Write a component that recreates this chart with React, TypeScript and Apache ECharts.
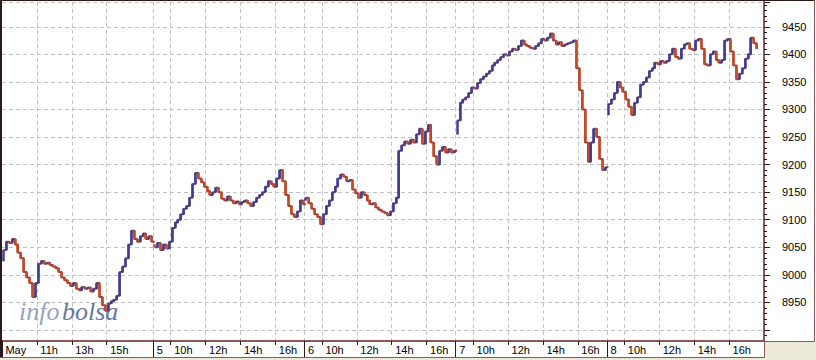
import React, { useEffect, useRef } from 'react';
import * as echarts from 'echarts';

// ---- data (IBEX-like intraday, 10-minute closes, 09:00 .. 17:30) ----
const dayLabels = ['May', '5', '6', '7', '8'];
const dayHourTicks = [
  [11, 13, 15],
  [10, 12, 14, 16],
  [10, 12, 14, 16],
  [10, 12, 14, 16],
  [10, 12, 14, 16],
];
const yTickLabels = [8950, 9000, 9050, 9100, 9150, 9200, 9250, 9300, 9350, 9400, 9450];
const dayOpens = [9025, 9055, 9135, 9255, 9290];

const closesDay1 = [
  9045, 9060, 9058, 9065, 9055, 9040, 9030, 9005, 8995, 8985, 8960, 8985, 9020,
  9025, 9020, 9022, 9018, 9015, 9012, 9005, 8995, 8990, 8985, 8980, 8985, 8975,
  8972, 8978, 8975, 8977, 8970, 8975, 8985, 8960, 8945, 8935, 8948, 8952, 8955,
  8962, 9005, 9015, 9030, 9055, 9080, 9065, 9060, 9070, 9075, 9065, 9070, 9060,
];
const closesDay2 = [
  9050, 9058, 9045, 9055, 9048, 9060, 9085, 9095, 9100, 9110, 9120, 9125, 9140,
  9165, 9185, 9175, 9168, 9160, 9152, 9145, 9150, 9158, 9150, 9138, 9135, 9142,
  9135, 9130, 9133, 9128, 9132, 9135, 9130, 9125, 9132, 9140, 9145, 9150, 9160,
  9170, 9165, 9160, 9175, 9190, 9170, 9145, 9125, 9110, 9105, 9115, 9135, 9128,
];
const closesDay3 = [
  9140, 9130, 9120, 9110, 9105, 9092, 9110, 9125, 9135, 9150, 9160, 9175, 9182,
  9178, 9170, 9172, 9155, 9148, 9140, 9150, 9145, 9135, 9128, 9130, 9122, 9118,
  9115, 9112, 9108, 9115, 9130, 9140, 9225, 9235, 9242, 9238, 9245, 9240, 9255,
  9265, 9238, 9260, 9272, 9240, 9215, 9200, 9225, 9232, 9222, 9228, 9222, 9225,
];
const closesDay4 = [
  9280, 9312, 9318, 9322, 9330, 9340, 9338, 9348, 9355, 9360, 9365, 9370, 9380,
  9385, 9390, 9395, 9400, 9398, 9405, 9410, 9408, 9415, 9425, 9418, 9415, 9412,
  9410, 9415, 9420, 9428, 9425, 9430, 9438, 9425, 9418, 9422, 9415, 9418, 9420,
  9422, 9425, 9375, 9335, 9300, 9240, 9205, 9240, 9265, 9250, 9210, 9190, 9195,
];
const closesDay5 = [
  9310, 9318, 9330, 9350, 9340, 9332, 9318, 9305, 9290, 9312, 9322, 9345, 9350,
  9358, 9370, 9375, 9385, 9382, 9388, 9385, 9388, 9400, 9410, 9395, 9392, 9410,
  9418, 9420, 9410, 9408, 9425, 9428, 9410, 9382, 9380, 9400, 9405, 9390, 9385,
  9390, 9425, 9428, 9405, 9380, 9355, 9365, 9375, 9392, 9400, 9430, 9420, 9410,
];
const dailyCloses = [closesDay1, closesDay2, closesDay3, closesDay4, closesDay5];

const SESSION_START_HOUR = 9;
const SLOT_MINUTES = 10;
const PAD_SLOTS = 2;

const BLUE = '#3d3d94';
const RED = '#c9471f';
const MIX = '#7a4460';
const FRAME = '#8a5a5a';
const DARK = '#2a1a1a';
const GRID = '#c2c2c2';
const BEIGE = '#ece9d8';
const FONT = 'Liberation Sans, Arial, sans-serif';

function buildData() {
  const categories: string[] = [];
  const labelText: Record<number, string> = {};
  const hourIdx = new Set<number>();
  const dayIdx = new Set<number>();
  const candles: number[][] = [];
  dailyCloses.forEach((closes, d) => {
    let prev = dayOpens[d];
    closes.forEach((c, j) => {
      const idx = categories.length;
      const mins = SESSION_START_HOUR * 60 + j * SLOT_MINUTES;
      const hh = Math.floor(mins / 60);
      const mm = mins % 60;
      categories.push(`${dayLabels[d]} ${hh}:${String(mm).padStart(2, '0')}`);
      if (j === 0) {
        labelText[idx] = dayLabels[d];
        dayIdx.add(idx);
      } else if (mm === 0 && dayHourTicks[d].includes(hh)) {
        labelText[idx] = `${hh}h`;
        hourIdx.add(idx);
      }
      candles.push([prev, c, Math.min(prev, c), Math.max(prev, c)]);
      prev = c;
    });
  });
  // connecting step line per session (broken between sessions)
  const total = categories.length;
  const connect: (number | null)[][] = [];
  let offset = 0;
  dailyCloses.forEach((closes) => {
    const seg: (number | null)[] = new Array(total).fill(null);
    closes.forEach((c, j) => { seg[offset + j] = c; });
    connect.push(seg);
    offset += closes.length;
  });
  for (let k = 0; k < PAD_SLOTS; k++) categories.push(`pad${k}`);
  return { categories, labelText, hourIdx, dayIdx, candles, connect };
}

export default function App() {
  const ref = useRef<HTMLDivElement>(null);
  useEffect(() => {
    if (!ref.current) return;
    const chart = echarts.init(ref.current, null, { renderer: 'svg' });
    const { categories, labelText, hourIdx, dayIdx, candles, connect } = buildData();
    const labelSet = new Set(yTickLabels.map(String));
    const lineSeries = connect.map((seg) => ({
      type: 'line',
      data: seg,
      step: 'end',
      showSymbol: false,
      connectNulls: false,
      z: 2,
      lineStyle: { color: MIX, width: 2 },
      silent: true,
    }));
    chart.setOption({
      animation: false,
      backgroundColor: '#ffffff',
      grid: { left: 2, right: 52, top: 2, bottom: 19, show: false },
      xAxis: [
        {
          type: 'category',
          data: categories,
          boundaryGap: true,
          position: 'bottom',
          axisLine: { show: true, onZero: false, lineStyle: { color: FRAME, width: 2 } },
          axisTick: {
            show: true,
            length: 4,
            alignWithLabel: false,
            interval: (i: number) => hourIdx.has(i),
            lineStyle: { color: DARK, width: 1 },
          },
          axisLabel: {
            show: true,
            interval: (i: number) => labelText[i] !== undefined,
            formatter: (_v: string, i: number) => labelText[i] ?? '',
            align: 'left',
            padding: [0, 0, 0, 2],
            margin: 3,
            color: '#000',
            fontSize: 11,
            fontFamily: FONT,
          },
          splitLine: {
            show: true,
            interval: (i: number) => i > 0 && labelText[i] !== undefined,
            lineStyle: { color: GRID, type: [4, 3], width: 1 },
          },
        },
        {
          type: 'category',
          data: categories,
          boundaryGap: true,
          position: 'bottom',
          axisLine: { show: false },
          axisLabel: { show: false },
          splitLine: { show: false },
          axisTick: {
            show: true,
            length: 16,
            alignWithLabel: false,
            interval: (i: number) => dayIdx.has(i),
            lineStyle: { color: DARK, width: 1 },
          },
        },
      ],
      yAxis: {
        type: 'value',
        position: 'right',
        min: 8880,
        max: 9495,
        minInterval: 50,
        maxInterval: 50,
        axisLine: { show: true, lineStyle: { color: FRAME, width: 2 } },
        axisTick: { show: true, length: 6, lineStyle: { color: DARK } },
        minorTick: { show: true, splitNumber: 5, length: 3, lineStyle: { color: DARK } },
        minorSplitLine: { show: false },
        axisLabel: {
          margin: 18,
          color: '#000',
          fontSize: 11,
          fontFamily: FONT,
          showMinLabel: false,
          showMaxLabel: false,
          formatter: (v: number) => (labelSet.has(String(v)) ? String(v) : ''),
        },
        splitLine: { show: true, lineStyle: { color: GRID, type: [4, 3], width: 1 } },
      },
      series: [
        ...lineSeries,
        {
          type: 'candlestick',
          data: candles,
          barWidth: 2.5,
          z: 3,
          itemStyle: {
            color: BLUE,
            color0: RED,
            borderColor: BLUE,
            borderColor0: RED,
            borderWidth: 0.5,
          },
        },
      ],
      graphic: [
        { type: 'text', z: 1, x: 19, y: 298, style: { text: 'info', fill: '#9aa2c0', font: 'italic 26px "Liberation Serif", serif', textVerticalAlign: 'top' } },
        { type: 'text', z: 1, x: 62, y: 298, style: { text: 'bolsa', fill: '#6676a3', font: 'italic 26px "Liberation Serif", serif', textVerticalAlign: 'top' } },
        { type: 'rect', z: 10, shape: { x: 765, y: 342, width: 51, height: 18 }, style: { fill: BEIGE } },
        { type: 'rect', z: 10, shape: { x: 0, y: 358, width: 816, height: 2 }, style: { fill: BEIGE } },
        { type: 'line', z: 11, shape: { x1: 1, y1: 0, x2: 1, y2: 358 }, style: { stroke: DARK, lineWidth: 2 } },
        { type: 'line', z: 11, shape: { x1: 0, y1: 0.5, x2: 815, y2: 0.5 }, style: { stroke: DARK, lineWidth: 1 } },
        { type: 'line', z: 11, shape: { x1: 814.5, y1: 0, x2: 814.5, y2: 342 }, style: { stroke: FRAME, lineWidth: 1 } },
        { type: 'line', z: 11, shape: { x1: 764, y1: 341.5, x2: 815, y2: 341.5 }, style: { stroke: FRAME, lineWidth: 1 } },
        { type: 'line', z: 11, shape: { x1: 0, y1: 357.5, x2: 765, y2: 357.5 }, style: { stroke: FRAME, lineWidth: 1 } },
        { type: 'line', z: 11, shape: { x1: 764.5, y1: 342, x2: 764.5, y2: 358 }, style: { stroke: FRAME, lineWidth: 1 } },
      ],
    });
    return () => chart.dispose();
  }, []);
  return (
    <>
      <style>{'body{margin:0}'}</style>
      <div ref={ref} style={{ width: 816, height: 360 }} />
    </>
  );
}
